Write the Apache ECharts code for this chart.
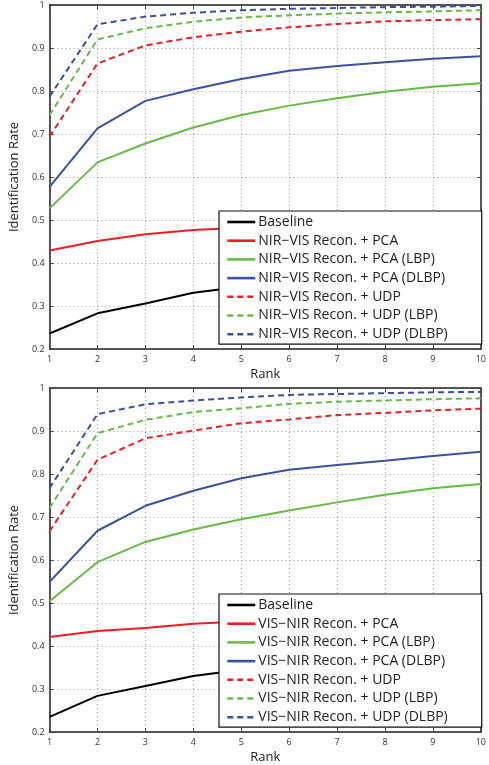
<!DOCTYPE html>
<html>
<head>
<meta charset="utf-8">
<script src="https://cdn.jsdelivr.net/npm/echarts@6/dist/echarts.min.js"></script>
<style>
  html, body { margin: 0; padding: 0; background: #fff; }
  #main { width: 489px; height: 765px; }
</style>
</head>
<body>
<div id="main"></div>
<script>
// ranks on the x axis
var ranks = [1, 2, 3, 4, 5, 6, 7, 8, 9, 10];

// top chart: NIR-VIS
var nvBaseline = [0.236, 0.283, 0.306, 0.331, 0.345, 0.360, 0.374, 0.388, 0.400, 0.413];
var nvPca      = [0.429, 0.451, 0.467, 0.477, 0.482, 0.490, 0.497, 0.504, 0.511, 0.517];
var nvPcaLbp   = [0.527, 0.634, 0.678, 0.715, 0.744, 0.766, 0.783, 0.798, 0.810, 0.818];
var nvPcaDlbp  = [0.577, 0.713, 0.777, 0.804, 0.828, 0.847, 0.858, 0.867, 0.875, 0.881];
var nvUdp      = [0.694, 0.864, 0.906, 0.925, 0.938, 0.948, 0.956, 0.962, 0.965, 0.967];
var nvUdpLbp   = [0.744, 0.920, 0.946, 0.961, 0.971, 0.976, 0.980, 0.983, 0.985, 0.988];
var nvUdpDlbp  = [0.787, 0.955, 0.973, 0.982, 0.988, 0.991, 0.993, 0.995, 0.996, 0.998];

// bottom chart: VIS-NIR
var vnBaseline = [0.235, 0.284, 0.307, 0.330, 0.345, 0.360, 0.373, 0.386, 0.398, 0.411];
var vnPca      = [0.421, 0.435, 0.442, 0.452, 0.457, 0.462, 0.467, 0.472, 0.478, 0.483];
var vnPcaLbp   = [0.504, 0.595, 0.642, 0.671, 0.695, 0.715, 0.734, 0.752, 0.767, 0.777];
var vnPcaDlbp  = [0.549, 0.668, 0.726, 0.761, 0.790, 0.810, 0.821, 0.831, 0.842, 0.852];
var vnUdp      = [0.667, 0.833, 0.883, 0.901, 0.918, 0.927, 0.937, 0.942, 0.948, 0.952];
var vnUdpLbp   = [0.721, 0.895, 0.926, 0.944, 0.953, 0.963, 0.968, 0.971, 0.974, 0.976];
var vnUdpDlbp  = [0.767, 0.939, 0.962, 0.971, 0.978, 0.984, 0.986, 0.988, 0.990, 0.991];

var suffixes = ['', ' Recon. + PCA', ' Recon. + PCA (LBP)', ' Recon. + PCA (DLBP)',
                ' Recon. + UDP', ' Recon. + UDP (LBP)', ' Recon. + UDP (DLBP)'];
var colors = ['#000000', '#ee1d24', '#66bb46', '#3a51a2', '#ee1d24', '#66bb46', '#3a51a2'];
var dashed = [false, false, false, false, true, true, true];

var myChart = echarts.init(document.getElementById('main'));

function names(prefix) {
    return suffixes.map(function (s, i) { return i === 0 ? 'Baseline' : prefix + s; });
}

function buildSeries(prefix, lists, g) {
    var n = names(prefix);
    return lists.map(function (vals, i) {
        return {
            name: n[i],
            type: 'line',
            xAxisIndex: g * 2,
            yAxisIndex: g * 2,
            symbol: 'none',
            z: 3,
            lineStyle: { color: colors[i], width: 2, type: dashed[i] ? [6, 4] : 'solid' },
            itemStyle: { color: colors[i] },
            data: vals.map(function (v, k) { return [ranks[k], v]; })
        };
    });
}

var labelFont = { fontFamily: 'Open Sans', color: '#333' };

function axesX(g) {
    return [
        {
            type: 'value', gridIndex: g, min: 1, max: 10, interval: 1,
            name: 'Rank', nameLocation: 'middle', nameGap: 19,
            nameTextStyle: { fontFamily: 'Open Sans', fontSize: 13, color: '#222' },
            axisLine: { lineStyle: { color: '#222', width: 1.5 } },
            axisTick: { inside: true, length: 4, lineStyle: { color: '#444' } },
            axisLabel: Object.assign({ fontSize: 9, margin: 6 }, labelFont),
            splitLine: { show: true, lineStyle: { color: '#999', type: [1, 3], width: 1 } }
        },
        {
            type: 'value', gridIndex: g, min: 1, max: 10, interval: 1, position: 'top',
            axisLine: { lineStyle: { color: '#222', width: 1.5 } },
            axisTick: { inside: true, length: 4, lineStyle: { color: '#444' } },
            axisLabel: { show: false },
            splitLine: { show: false }
        }
    ];
}

function axesY(g) {
    return [
        {
            type: 'value', gridIndex: g, min: 0.2, max: 1, interval: 0.1,
            name: 'Identification Rate', nameLocation: 'middle', nameGap: 23,
            nameTextStyle: { fontFamily: 'Open Sans', fontSize: 13, color: '#222' },
            axisLine: { show: true, lineStyle: { color: '#222', width: 1.5 } },
            axisTick: { show: true, inside: true, length: 4, lineStyle: { color: '#444' } },
            axisLabel: Object.assign({
                fontSize: 9, margin: 5,
                formatter: function (v) { return String(+v.toFixed(1)); }
            }, labelFont),
            splitLine: { show: true, lineStyle: { color: '#999', type: [1, 3], width: 1 } }
        },
        {
            type: 'value', gridIndex: g, min: 0.2, max: 1, interval: 0.1, position: 'right',
            axisLine: { show: true, lineStyle: { color: '#222', width: 1.5 } },
            axisTick: { show: true, inside: true, length: 4, lineStyle: { color: '#444' } },
            axisLabel: { show: false },
            splitLine: { show: false }
        }
    ];
}

function legendFor(prefix, top) {
    return {
        data: names(prefix),
        orient: 'vertical',
        left: 219,
        top: top,
        padding: [4, 34, 3, 7],
        itemGap: 4.7,
        itemWidth: 28,
        itemHeight: 14,
        backgroundColor: '#fff',
        borderColor: '#111',
        borderWidth: 1.2,
        borderRadius: 0,
        selectedMode: false,
        z: 10,
        itemStyle: { opacity: 0 },
        lineStyle: { width: 2.6 },
        textStyle: { fontFamily: 'Open Sans', fontSize: 14, color: '#222', padding: [0, 0, 0, -2] }
    };
}

var option = {
    animation: false,
    backgroundColor: '#fff',
    grid: [
        { left: 49, top: 5, width: 437, height: 344 },
        { left: 49, top: 388, width: 437, height: 345 }
    ],
    xAxis: axesX(0).concat(axesX(1)),
    yAxis: axesY(0).concat(axesY(1)),
    legend: [legendFor('NIR−VIS', 211), legendFor('VIS−NIR', 594)],
    series: buildSeries('NIR−VIS', [nvBaseline, nvPca, nvPcaLbp, nvPcaDlbp, nvUdp, nvUdpLbp, nvUdpDlbp], 0)
        .concat(buildSeries('VIS−NIR', [vnBaseline, vnPca, vnPcaLbp, vnPcaDlbp, vnUdp, vnUdpLbp, vnUdpDlbp], 1))
};

myChart.setOption(option);
</script>
</body>
</html>
